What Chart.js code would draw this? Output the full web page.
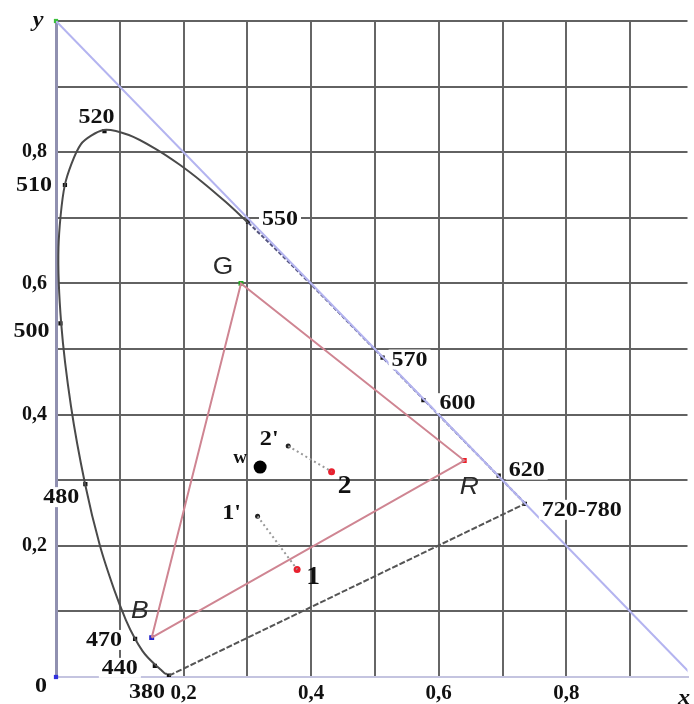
<!DOCTYPE html>
<html>
<head>
<meta charset="utf-8">
<script src="https://cdn.jsdelivr.net/npm/chart.js@4"></script>
<style>
  html, body { margin: 0; padding: 0; background: #fff; }
  canvas { display: block; }
</style>
</head>
<body>
<canvas id="chartCanvas" width="694" height="704"></canvas>
<script>
// spectral locus (x, y), 380 nm -> 550 nm
const locusX = [0.1741, 0.1738, 0.1733, 0.1726, 0.1714, 0.1689, 0.1644, 0.1566, 0.1440, 0.1355, 0.1241, 0.1096, 0.0913,
  0.0687, 0.0454, 0.0235, 0.0082, 0.0039, 0.0139, 0.0389, 0.0743, 0.1142, 0.1547, 0.1929, 0.2296, 0.2658, 0.3016];
const locusY = [0.0050, 0.0049, 0.0048, 0.0048, 0.0051, 0.0069, 0.0109, 0.0177, 0.0297, 0.0399, 0.0578, 0.0868, 0.1327,
  0.2007, 0.2950, 0.4127, 0.5384, 0.6548, 0.7502, 0.8120, 0.8338, 0.8262, 0.8059, 0.7816, 0.7543, 0.7243, 0.6923];
// red end of the locus, 550 nm -> 700 nm
const locusRedX = [0.3016, 0.3373, 0.3731, 0.4087, 0.4441, 0.4788, 0.5125, 0.5448, 0.5752, 0.6029, 0.6270, 0.6482, 0.6658,
  0.6801, 0.6915, 0.7006, 0.7079, 0.7190, 0.7260, 0.7300, 0.7347];
const locusRedY = [0.6923, 0.6589, 0.6245, 0.5896, 0.5547, 0.5202, 0.4866, 0.4544, 0.4242, 0.3965, 0.3725, 0.3514, 0.3340,
  0.3197, 0.3083, 0.2993, 0.2920, 0.2809, 0.2740, 0.2700, 0.2653];

// wavelength marks as they sit on the picture
const waveLabels = ["380", "440", "470", "480", "500", "510", "520", "550", "570", "600", "620", "720-780"];
const waveX = [0.177, 0.155, 0.124, 0.046, 0.007, 0.014, 0.076, 0.301, 0.512, 0.576, 0.694, 0.735];
const waveY = [0.002, 0.017, 0.058, 0.294, 0.539, 0.750, 0.832, 0.694, 0.487, 0.422, 0.307, 0.264];

// purple line ends
const purpleX = [0.177, 0.735];
const purpleY = [0.002, 0.264];

// primaries R, G, B
const primaryNames = ["R", "G", "B"];
const primaryX = [0.64, 0.29, 0.15];
const primaryY = [0.33, 0.60, 0.06];

// white point
const whiteX = [0.32];
const whiteY = [0.32];

// colour samples and their shifted copies
const sampleNames = ["1", "1'", "2", "2'"];
const sampleX = [0.378, 0.316, 0.432, 0.364];
const sampleY = [0.164, 0.245, 0.313, 0.352];

// axis ticks
const tickValues = [0.2, 0.4, 0.6, 0.8];
const tickLabels = ["0,2", "0,4", "0,6", "0,8"];

const pts = (xs, ys) => xs.map((x, i) => ({ x, y: ys[i] }));

// where each label sits relative to its mark (px)
const waveOffsets = [[-22, 16], [-35, 2], [-31, 1], [-24, 13], [-29, 7], [-31, 0], [-8, -14], [32, -3], [27, 2], [34, 3], [28, -6], [57, 6]];
const primaryOffsets = [[5, 26], [-18, -17], [-12, -27]];
const sampleOffsets = [[16, 7], [-26, -4], [13, 14], [-19, -8]];

const serif = '"Liberation Serif", "Times New Roman", serif';
const sans = '"Liberation Sans", Arial, sans-serif';

function drawText(ctx, text, x, y, font, color, stretch, bg) {
  ctx.save();
  ctx.font = font;
  const w = ctx.measureText(text).width * stretch;
  if (bg) {
    ctx.fillStyle = "#fff";
    ctx.fillRect(x - w / 2 - 3, y - 10, w + 6, 20);
  }
  ctx.translate(x, y);
  ctx.scale(stretch, 1);
  ctx.fillStyle = color;
  ctx.textAlign = "center";
  ctx.textBaseline = "middle";
  ctx.fillText(text, 0, 1);
  ctx.restore();
}

const labelPlugin = {
  id: "labels",
  afterDatasetsDraw(chart) {
    const ctx = chart.ctx;
    const sx = chart.scales.x, sy = chart.scales.y;
    const px = v => sx.getPixelForValue(v), py = v => sy.getPixelForValue(v);

    waveLabels.forEach((t, i) => {
      drawText(ctx, t, px(waveX[i]) + waveOffsets[i][0], py(waveY[i]) + waveOffsets[i][1],
        "bold 20px " + serif, "#111", 1.2, true);
    });
    primaryNames.forEach((t, i) => {
      const font = t === "G" ? "24px " + sans : "italic 24px " + sans;
      drawText(ctx, t, px(primaryX[i]) + primaryOffsets[i][0], py(primaryY[i]) + primaryOffsets[i][1], font, "#2a2a2a", 1.1, false);
    });
    sampleNames.forEach((t, i) => {
      const size = t.length > 1 ? 22 : 25;
      drawText(ctx, t, px(sampleX[i]) + sampleOffsets[i][0], py(sampleY[i]) + sampleOffsets[i][1],
        "bold " + size + "px " + serif, "#111", 1.1, false);
    });
    drawText(ctx, "w", px(whiteX[0]) - 20, py(whiteY[0]) - 10, "bold 19px " + serif, "#111", 1.0, false);

    // axis names and origin
    drawText(ctx, "y", 38, 19, "italic bold 22px " + serif, "#111", 1.1, false);
    drawText(ctx, "x", 684, 697, "italic bold 22px " + serif, "#111", 1.1, false);
    drawText(ctx, "0", 41, 686, "bold 20px " + serif, "#111", 1.2, false);
  }
};

const config = {
  type: "scatter",
  data: {
    datasets: [
      { data: pts([0, 1], [1, 0]), showLine: true, borderColor: "#b4b4f0", borderWidth: 2, pointRadius: 0 },
      { data: pts(locusX, locusY), showLine: true, borderColor: "#4a4a4a", borderWidth: 2, pointRadius: 0, tension: 0.25 },
      { data: pts(locusRedX, locusRedY), showLine: true, borderColor: "#54547e", borderWidth: 2, borderDash: [4, 2], pointRadius: 0 },
      { data: pts(purpleX, purpleY), showLine: true, borderColor: "#555", borderWidth: 2, borderDash: [6, 2], pointRadius: 0 },
      { data: pts([primaryX[2], primaryX[1], primaryX[0], primaryX[2]], [primaryY[2], primaryY[1], primaryY[0], primaryY[2]]),
        showLine: true, borderColor: "#cf8592", borderWidth: 2, pointRadius: 0 },
      { data: pts([sampleX[1], sampleX[0]], [sampleY[1], sampleY[0]]), showLine: true, borderColor: "#999", borderWidth: 2, borderDash: [2, 3], pointRadius: 0 },
      { data: pts([sampleX[3], sampleX[2]], [sampleY[3], sampleY[2]]), showLine: true, borderColor: "#999", borderWidth: 2, borderDash: [2, 3], pointRadius: 0 },
      { data: pts(waveX, waveY), pointStyle: "rect", pointRadius: 3, backgroundColor: "#111", borderWidth: 0 },
      { data: pts(primaryX, primaryY), pointStyle: "rect", pointRadius: 3.5, backgroundColor: ["#ee1c24", "#22aa22", "#2424cc"], borderWidth: 0 },
      { data: pts(whiteX, whiteY), pointRadius: 6.5, backgroundColor: "#000", borderWidth: 0 },
      { data: pts(sampleX, sampleY), pointRadius: [3.5, 2.5, 3.5, 2.5], backgroundColor: ["#e8202e", "#222", "#e8202e", "#222"], borderWidth: 0 },
      { data: pts([0, 0], [1, 0]), pointStyle: "rect", pointRadius: 3, backgroundColor: ["#3cc03c", "#3030dd"], borderWidth: 0, clip: false }
    ]
  },
  options: {
    responsive: false,
    animation: false,
    devicePixelRatio: 1,
    layout: { padding: { top: 18, right: 0, bottom: 0, left: 0 } },
    plugins: { legend: { display: false }, tooltip: { enabled: false } },
    scales: {
      x: {
        type: "linear", min: 0, max: 0.99,
        afterFit: s => { s.height = 27; },
        border: { display: true, color: "#c4c4e0", width: 2 },
        grid: { drawTicks: false, lineWidth: 2, color: c => (c.tick && c.tick.value === 0 ? "rgba(0,0,0,0)" : "#666") },
        ticks: {
          stepSize: 0.1, includeBounds: false, padding: 4, maxRotation: 0, autoSkip: false,
          color: "#111", font: { family: serif, size: 21, weight: "bold" },
          callback: v => { const i = tickValues.findIndex(t => Math.abs(t - v) < 1e-6); return i < 0 ? "" : tickLabels[i]; }
        }
      },
      y: {
        type: "linear", min: 0, max: 1,
        afterFit: s => { s.width = 56; },
        border: { display: true, color: "#9090b0", width: 3 },
        grid: { drawTicks: false, lineWidth: 2, color: c => (c.tick && c.tick.value === 0 ? "#c4c4e0" : "#626262") },
        ticks: {
          stepSize: 0.1, padding: 9, autoSkip: false,
          color: "#111", font: { family: serif, size: 20, weight: "bold" },
          callback: v => { const i = tickValues.findIndex(t => Math.abs(t - v) < 1e-6); return i < 0 ? "" : tickLabels[i]; }
        }
      }
    }
  },
  plugins: [labelPlugin]
};

const chart = new Chart(document.getElementById("chartCanvas").getContext("2d"), config);
</script>
</body>
</html>
